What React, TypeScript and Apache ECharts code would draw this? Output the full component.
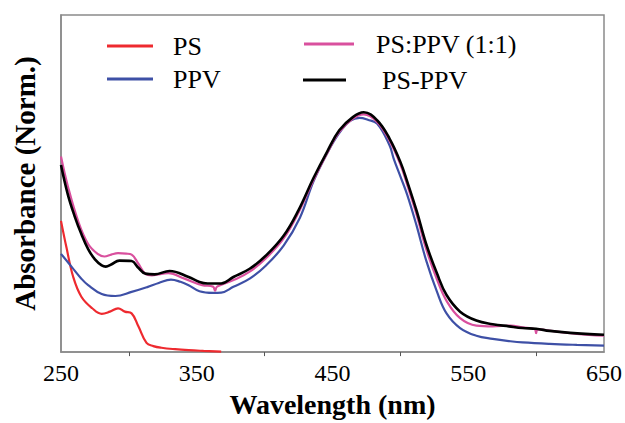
import React, { useEffect, useRef } from "react";
import * as echarts from "echarts";

// PS (red)
const psWl = [250, 254, 259, 265, 273, 280, 286, 292, 297, 302, 307, 313, 318, 324, 334, 344, 355, 368];
const psAbs = [0.545, 0.435, 0.312, 0.23, 0.182, 0.159, 0.168, 0.182, 0.168, 0.161, 0.107, 0.038, 0.025, 0.018, 0.012, 0.008, 0.005, 0.002];

// PPV (blue)
const ppvWl = [250, 258, 265, 270, 280, 290, 302, 314, 322, 331, 338, 344, 352, 362, 368, 377, 389, 401, 414, 426, 436, 446, 455, 463, 470, 476, 483, 492, 495, 500, 505, 512, 519, 527, 534, 544, 556, 568, 581, 590, 610, 630, 650];
const ppvAbs = [0.408, 0.353, 0.305, 0.278, 0.241, 0.233, 0.25, 0.271, 0.287, 0.301, 0.292, 0.278, 0.253, 0.246, 0.247, 0.271, 0.305, 0.36, 0.442, 0.558, 0.709, 0.825, 0.91, 0.96, 0.973, 0.965, 0.948, 0.859, 0.805, 0.73, 0.654, 0.524, 0.381, 0.25, 0.161, 0.1, 0.068, 0.055, 0.045, 0.04, 0.034, 0.03, 0.027];

// PS:PPV (1:1) (pink)
const blendWl = [250, 255, 263, 270, 277, 282, 287, 292, 298, 302, 307, 312, 317, 329, 341, 354, 362, 363.5, 365, 378, 389, 401, 414, 425, 436, 446, 455, 465, 473, 483, 492, 500, 505, 512, 519, 527, 534, 544, 556, 568, 581, 590, 599, 600, 601, 615, 630, 650];
const blendAbs = [0.812, 0.69, 0.538, 0.449, 0.408, 0.397, 0.405, 0.411, 0.409, 0.405, 0.367, 0.326, 0.319, 0.328, 0.305, 0.278, 0.272, 0.255, 0.272, 0.301, 0.334, 0.39, 0.472, 0.58, 0.715, 0.826, 0.915, 0.97, 0.987, 0.955, 0.878, 0.78, 0.695, 0.57, 0.428, 0.301, 0.213, 0.141, 0.11, 0.107, 0.11, 0.103, 0.095, 0.079, 0.094, 0.085, 0.076, 0.068];

// PS-PPV (black)
const copoWl = [250, 255, 260, 265, 270, 275, 280, 283, 287, 293, 302, 307, 312, 319, 330, 344, 352, 358, 368, 377, 389, 401, 414, 425, 436, 446, 455, 465, 473, 483, 492, 500, 505, 512, 519, 527, 534, 544, 556, 568, 580, 590, 600, 610, 625, 650];
const copoAbs = [0.777, 0.655, 0.565, 0.49, 0.428, 0.385, 0.36, 0.355, 0.364, 0.38, 0.378, 0.35, 0.326, 0.323, 0.337, 0.312, 0.291, 0.285, 0.285, 0.312, 0.346, 0.401, 0.483, 0.59, 0.723, 0.832, 0.921, 0.976, 0.996, 0.962, 0.887, 0.79, 0.709, 0.586, 0.449, 0.326, 0.237, 0.168, 0.131, 0.116, 0.107, 0.1, 0.097, 0.088, 0.08, 0.072];

const xTicks = { min: 250, max: 650, interval: 100 };

const names = ["PS", "PPV", "PS:PPV (1:1)", "PS-PPV"];
const colors = ["#ee2a2f", "#3e50a6", "#d9509e", "#000000"];

const zip = (xs: number[], ys: number[]) => xs.map((x, i) => [x, ys[i]]);

const FONT = "'Liberation Serif', 'Times New Roman', serif";

export default function App() {
  const ref = useRef<HTMLDivElement>(null);
  useEffect(() => {
    if (!ref.current) return;
    const chart = echarts.init(ref.current, undefined, { renderer: "svg" });
    const seriesData = [zip(psWl, psAbs), zip(ppvWl, ppvAbs), zip(blendWl, blendAbs), zip(copoWl, copoAbs)];
    const legendPos = [
      { left: 107, top: 33, w: 46, gap: 15 },
      { left: 107, top: 66, w: 46, gap: 15 },
      { left: 304, top: 31, w: 50, gap: 17 },
      { left: 303, top: 67, w: 43, gap: 31 },
    ];
    chart.setOption({
      animation: false,
      backgroundColor: "#ffffff",
      textStyle: { fontFamily: FONT },
      grid: { left: 61, right: 21, top: 15, bottom: 67, show: true, borderColor: "#8a8a8a", borderWidth: 1.5, backgroundColor: "transparent" },
      legend: names.map((n, i) => ({
        data: [n],
        left: legendPos[i].left,
        top: legendPos[i].top,
        padding: 0,
        icon: "rect",
        itemWidth: legendPos[i].w,
        itemHeight: 3,
        selectedMode: false,
        textStyle: { fontFamily: FONT, fontSize: 26, color: "#000", padding: [0, 0, 0, legendPos[i].gap] },
      })),
      xAxis: {
        type: "value",
        min: xTicks.min,
        max: xTicks.max,
        interval: xTicks.interval,
        name: "Wavelength (nm)",
        nameLocation: "middle",
        nameGap: 33,
        nameTextStyle: { fontFamily: FONT, fontSize: 28, fontWeight: "bold", color: "#000" },
        axisLine: { show: true, lineStyle: { color: "#8a8a8a", width: 1.5 } },
        axisTick: { show: false },
        minorTick: { show: true, splitNumber: 2, length: 4, lineStyle: { color: "#555", width: 1 } },
        splitLine: { show: false },
        minorSplitLine: { show: false },
        axisLabel: { fontFamily: FONT, fontSize: 24, color: "#000", margin: 9 },
      },
      yAxis: {
        type: "value",
        min: 0,
        max: 1.4,
        name: "Absorbance (Norm.)",
        nameLocation: "middle",
        nameGap: 22,
        nameTextStyle: { fontFamily: FONT, fontSize: 29, fontWeight: "bold", color: "#000" },
        axisLine: { show: true, lineStyle: { color: "#8a8a8a", width: 1.5 } },
        axisTick: { show: false },
        axisLabel: { show: false },
        splitLine: { show: false },
      },
      series: names.map((n, i) => ({
        name: n,
        type: "line",
        data: seriesData[i],
        showSymbol: false,
        symbol: "none",
        smooth: 0.4,
        lineStyle: { color: colors[i], width: i === 3 ? 2.6 : 2.2 },
        itemStyle: { color: colors[i] },
        z: 2 + i,
      })),
    });
    return () => chart.dispose();
  }, []);
  return <div ref={ref} style={{ position: "absolute", left: 0, top: 0, width: 625, height: 423 }} />;
}
